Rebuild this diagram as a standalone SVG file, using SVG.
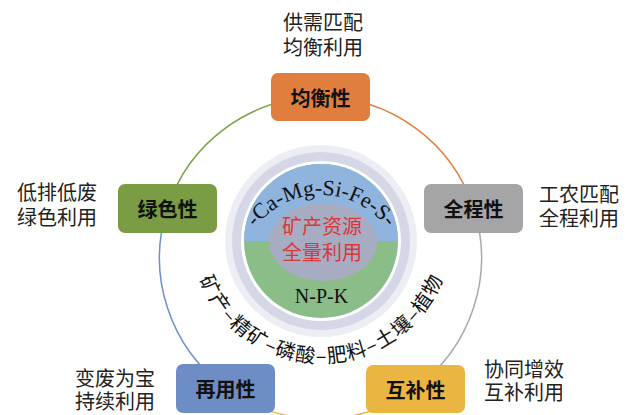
<svg xmlns="http://www.w3.org/2000/svg" width="636" height="415" viewBox="0 0 636 415">
<style>
.box{stroke:none}
.lbl{font-family:"Noto Sans CJK SC","Noto Sans",sans-serif;font-weight:bold;font-size:20px;fill:#111;text-anchor:middle;dominant-baseline:central}
.side{font-family:"Noto Sans CJK SC","Noto Sans",sans-serif;font-size:20px;fill:#222}
.arc{fill:none;stroke-width:1.5}
.ser{font-family:"Liberation Serif","Times New Roman",serif;fill:#111}
</style>
<defs>
<path id="topArc" d="M 238,278 A 83 83 0 0 1 404,278"/>
<path id="botArc" d="M 191,233 A 130 130 0 0 0 451,233"/>
<clipPath id="topHalf"><rect x="200" y="150" width="240" height="91"/></clipPath>
</defs>
<rect width="636" height="415" fill="#fff"/>
<g id="connectors">
<path class="arc" stroke="#E07F40" d="M 320.5,97 A 161 161 0 0 1 473.7,208.5"/>
<path class="arc" stroke="#A9A9A9" d="M 473.7,208.5 A 161 161 0 0 1 415.1,388.2"/>
<path class="arc" stroke="#EAB541" d="M 415.1,388.2 A 161 161 0 0 1 225.9,388.2"/>
<path class="arc" stroke="#6F8FCC" d="M 225.9,388.2 A 161 161 0 0 1 167.3,208.5"/>
<path class="arc" stroke="#7AA043" d="M 167.3,208.5 A 161 161 0 0 1 320.5,97"/>
</g>
<g id="center">
<circle cx="321" cy="241" r="96" fill="#eceef4"/>
<circle cx="321" cy="241" r="89" fill="#d5d7e6"/>
<circle cx="321" cy="241" r="80" fill="#fff"/>
<circle cx="321" cy="241" r="77" fill="#8bbd88"/>
<circle cx="321" cy="241" r="77" fill="#8fb4de" clip-path="url(#topHalf)"/>
<ellipse cx="323" cy="242" rx="54" ry="39" fill="#a8acc2"/>
<text class="ser" font-size="22" text-anchor="middle"><textPath href="#topArc" startOffset="50%">-Ca-Mg-Si-Fe-S-</textPath></text>
<text font-family="Noto Sans CJK SC, sans-serif" font-size="20" fill="#d9383a" text-anchor="middle" x="322" y="234">矿产资源</text>
<text font-family="Noto Sans CJK SC, sans-serif" font-size="20" fill="#d9383a" text-anchor="middle" x="322" y="260">全量利用</text>
<text class="ser" font-size="20" text-anchor="middle" x="321.5" y="303">N-P-K</text>
</g>
<g id="chain">
<text font-family="Noto Sans CJK SC, sans-serif" font-size="20" fill="#111" text-anchor="middle"><textPath href="#botArc" startOffset="50%" textLength="314" lengthAdjust="spacing">矿产–精矿–磷酸–肥料–土壤–植物</textPath></text>
</g>
<g id="node-top">
<rect class="box" x="271" y="73" width="99" height="48" rx="7" fill="#DF7E3F"/>
<text class="lbl" x="320.5" y="97">均衡性</text>
<text class="side" x="283" y="30">供需匹配</text>
<text class="side" x="283" y="55">均衡利用</text>
</g>
<g id="node-left">
<rect class="box" x="118" y="184" width="99" height="49" rx="7" fill="#7A9C44"/>
<text class="lbl" x="167.5" y="208.5">绿色性</text>
<text class="side" x="17" y="200">低排低废</text>
<text class="side" x="17" y="225">绿色利用</text>
</g>
<g id="node-right">
<rect class="box" x="424" y="184" width="99" height="49" rx="7" fill="#A5A5A7"/>
<text class="lbl" x="473.5" y="208.5">全程性</text>
<text class="side" x="539" y="202">工农匹配</text>
<text class="side" x="539" y="226">全程利用</text>
</g>
<g id="node-bl">
<rect class="box" x="176" y="364" width="99" height="49" rx="7" fill="#6E8DC5"/>
<text class="lbl" x="225.5" y="388.5">再用性</text>
<text class="side" x="75" y="386">变废为宝</text>
<text class="side" x="75" y="409">持续利用</text>
</g>
<g id="node-br">
<rect class="box" x="366" y="365" width="99" height="48" rx="7" fill="#EAB541"/>
<text class="lbl" x="415.5" y="389">互补性</text>
<text class="side" x="484" y="377">协同增效</text>
<text class="side" x="484" y="400">互补利用</text>
</g>
</svg>
